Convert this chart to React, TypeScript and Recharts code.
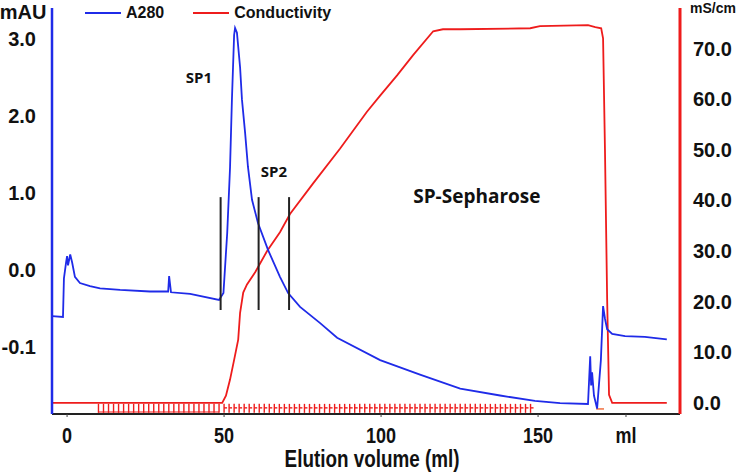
import React from "react";
import {
  ComposedChart,
  Line,
  Scatter,
  XAxis,
  YAxis,
  Legend,
  Label,
  ReferenceLine,
  ReferenceDot,
} from "recharts";

// A280 trace (left axis, plotted in axis-label units)
const a280Ml = [-4.8, -1.3, -1.0, -0.3, 0, 0.3, 1.0, 1.6, 2.5, 4.1, 7.3, 10.5, 16.9, 26.4, 32.2, 32.5, 33.1, 39.2, 48.4, 49.8, 51.0, 51.9, 52.5, 53.2, 53.5, 54.1, 55.1, 55.7, 56.7, 57.6, 58.9, 60.8, 64.0, 67.8, 70.4, 74.2, 80.6, 86.0, 99.7, 112.4, 125.2, 137.9, 149.0, 157.0, 165.9, 166.6, 166.9, 167.2, 167.8, 168.8, 170.0, 170.7, 171.3, 172.0, 173.6, 177.7, 184.0, 191.0];
const a280Val = [-0.6, -0.61, -0.11, 0.1, 0.18, 0.06, 0.2, 0.1, -0.09, -0.17, -0.21, -0.24, -0.26, -0.28, -0.28, -0.08, -0.29, -0.31, -0.39, -0.3, 0.48, 1.33, 2.21, 3.05, 3.14, 3.08, 2.63, 2.21, 1.78, 1.34, 0.91, 0.61, 0.26, -0.09, -0.3, -0.48, -0.69, -0.88, -1.17, -1.36, -1.54, -1.63, -1.7, -1.73, -1.74, -1.12, -1.5, -1.33, -1.63, -1.8, -1.17, -0.47, -0.63, -0.77, -0.83, -0.86, -0.87, -0.9];

// conductivity trace (right axis, mS/cm)
const condMl = [-4.8, 49.4, 50.6, 51.9, 53.2, 54.5, 55.1, 56.1, 57.3, 59.9, 63.7, 67.8, 71.0, 78.3, 86.9, 95.5, 99.7, 105.1, 110.2, 116.6, 119.7, 125.2, 147.5, 150.6, 165.9, 168.2, 170.1, 170.7, 171.3, 172.0, 172.6, 173.6, 191.0];
const condVal = [0, 0, 1.4, 4.6, 8.5, 12.5, 17.8, 21.8, 23.4, 25.8, 30.0, 33.7, 37.3, 43.3, 50.2, 57.5, 60.7, 64.7, 68.7, 73.4, 73.8, 73.8, 74.0, 74.4, 74.6, 74.2, 74.0, 72.0, 50.2, 20.4, 1.6, 0, 0];

// fraction collector marks
const fractionsOpen = [10, 11.6, 13.2, 14.8, 16.4, 18, 19.6, 21.2, 22.8, 24.4, 26, 27.6, 29.2, 30.8, 32.4, 34, 35.6, 37.2, 38.8, 40.4, 42, 43.6, 45.2, 46.8, 48.4];
const fractionsArrow = [50, 51.6, 53.2, 54.8, 56.4, 58, 59.6, 61.2, 62.8, 64.4, 66, 67.6, 69.2, 70.8, 72.4, 74, 75.6, 77.2, 78.8, 80.4, 82, 83.6, 85.2, 86.8, 88.4, 90, 91.6, 93.2, 94.8, 96.4, 98, 99.6, 101.2, 102.8, 104.4, 106, 107.6, 109.2, 110.8, 112.4, 114, 115.6, 117.2, 118.8, 120.4, 122, 123.6, 125.2, 126.8, 128.4, 130, 131.6, 133.2, 134.8, 136.4, 138, 139.6, 141.2, 142.8, 144.4, 146, 147.6];

// pooled fraction cuts (SP1 / SP2)
const cutMl = [48.9, 61.0, 70.7];
const cutTop = 0.945;
const cutBottom = -0.52;

const peakLabels = ["SP1", "SP2"];
const peakLabelMl = [42.0, 65.9];
const peakLabelVal = [2.5, 1.27];

const xTicks = [0, 50, 100, 150, 178];
const xTickLabels = ["0", "50", "100", "150", "ml"];
const leftTicks = [-1, 0, 1, 2, 3];
const leftTickLabels = ["-0.1", "0.0", "1.0", "2.0", "3.0"];
const rightTicks = [0, 10, 20, 30, 40, 50, 60, 70];

const BLUE = "#1f2be8";
const RED = "#ee1c1c";
const SANS = "'Liberation Sans', Arial, sans-serif";

const a280Data = a280Ml.map((ml, i) => ({ ml, v: a280Val[i] }));
const condData = condMl.map((ml, i) => ({ ml, c: condVal[i] }));
const fractionData = [
  ...fractionsOpen.map((ml) => ({ ml, c: 0, kind: "open" })),
  ...fractionsArrow.map((ml) => ({ ml, c: 0, kind: "arrow" })),
];

const FractionMark = (props: any) => {
  const { cx, cy, payload } = props;
  return (
    <g>
      <line x1={cx} x2={cx} y1={cy + 1} y2={cy + 10} stroke={RED} strokeWidth={1.4} />
      {payload.kind === "arrow" && (
        <line x1={cx} x2={cx + 3} y1={cy + 5} y2={cy + 5} stroke={RED} strokeWidth={1.4} />
      )}
    </g>
  );
};

// condensed (narrow) text, like the x-axis labels in the original
const NarrowTick = (props: any) => {
  const { x, y, payload } = props;
  return (
    <g transform={`translate(${x},${y}) scale(0.82,1)`}>
      <text x={0} y={0} dy="0.71em" textAnchor="middle" fontFamily={SANS} fontWeight="bold" fontSize={22} fill="#111">
        {xTickLabels[xTicks.indexOf(payload.value)]}
      </text>
    </g>
  );
};

const XTitle = (props: any) => {
  const { viewBox } = props;
  const cx = viewBox.x + viewBox.width / 2 + 6;
  const by = viewBox.y + viewBox.height - 6;
  return (
    <g transform={`translate(${cx},${by}) scale(0.82,1)`}>
      <text x={0} y={0} textAnchor="middle" fontFamily={SANS} fontWeight="bold" fontSize={23} fill="#111">
        Elution volume (ml)
      </text>
    </g>
  );
};

const renderLegend = (props: any) => {
  const items = (props.payload || []).filter((p: any) => p.type !== "none");
  return (
    <div style={{ display: "flex", alignItems: "center", height: 26 }}>
      {items.map((p: any) => (
        <div key={p.value} style={{ display: "flex", alignItems: "center", marginRight: 29 }}>
          <svg width={36} height={4}>
            <line x1={0} x2={36} y1={2} y2={2} stroke={p.color} strokeWidth={2} />
          </svg>
          <span style={{ marginLeft: 5, fontFamily: SANS, fontWeight: "bold", fontSize: 16, color: "#111" }}>
            {p.value}
          </span>
        </div>
      ))}
    </div>
  );
};

export default function App() {
  return (
    <div style={{ position: "absolute", left: 0, top: 0, background: "#fff" }}>
      <ComposedChart width={742} height={473} margin={{ top: 8, right: 0, bottom: 0, left: 0 }}>
        <XAxis
          dataKey="ml"
          type="number"
          domain={[-4.8, 195.2]}
          allowDataOverflow
          ticks={xTicks}
          height={59}
          axisLine={{ stroke: "#222", strokeWidth: 2 }}
          tickLine={{ stroke: "#444" }}
          tickSize={3}
          tickMargin={10}
          tick={NarrowTick}
        >
          <Label content={XTitle} />
        </XAxis>
        <YAxis
          yAxisId="a280"
          orientation="left"
          type="number"
          domain={[-1.87, 3.4]}
          allowDataOverflow
          ticks={leftTicks}
          tickFormatter={(v: number) => leftTickLabels[leftTicks.indexOf(v)]}
          width={52}
          axisLine={{ stroke: BLUE, strokeWidth: 2.5 }}
          tickLine={false}
          tickSize={0}
          tickMargin={16}
          tick={{ fontFamily: SANS, fontWeight: "bold", fontSize: 20, fill: "#111" }}
        >
          <Label
            value="mAU"
            position="insideTop"
            offset={-3}
            dx={-3}
            style={{ fontFamily: SANS, fontWeight: "bold", fontSize: 20, fill: "#111" }}
          />
        </YAxis>
        <YAxis
          yAxisId="cond"
          orientation="right"
          type="number"
          domain={[-2.2, 78]}
          allowDataOverflow
          ticks={rightTicks}
          tickFormatter={(v: number) => v.toFixed(1)}
          width={62}
          axisLine={{ stroke: RED, strokeWidth: 3 }}
          tickLine={false}
          tickSize={0}
          tickMargin={13}
          tick={{ fontFamily: SANS, fontWeight: "bold", fontSize: 20, fill: "#111" }}
        >
          <Label
            value="mS/cm"
            position="insideTop"
            offset={-5}
            dx={2}
            style={{ fontFamily: SANS, fontWeight: "bold", fontSize: 14, fill: "#111" }}
          />
        </YAxis>
        {/* middle/center so the legend does not push the plot down */}
        <Legend
          layout="horizontal"
          verticalAlign="middle"
          align="center"
          content={renderLegend}
          wrapperStyle={{ top: 0, left: 85, width: "auto", height: 26 }}
        />

        <ReferenceLine
          yAxisId="cond"
          segment={[{ x: fractionsOpen[0], y: -1.8 }, { x: fractionsOpen[fractionsOpen.length - 1], y: -1.8 }]}
          stroke={RED}
          strokeWidth={1.2}
        />
        <ReferenceLine
          yAxisId="cond"
          segment={[{ x: 168.5, y: -1.2 }, { x: 171, y: -1.2 }]}
          stroke="#f07040"
          strokeWidth={1.5}
        />
        <Scatter
          yAxisId="cond"
          dataKey="c"
          data={fractionData}
          shape={FractionMark}
          legendType="none"
          isAnimationActive={false}
        />

        <Line
          yAxisId="cond"
          data={condData}
          dataKey="c"
          name="Conductivity"
          type="linear"
          stroke={RED}
          strokeWidth={1.8}
          dot={false}
          activeDot={false}
          isAnimationActive={false}
          legendType="line"
        />
        <Line
          yAxisId="a280"
          data={a280Data}
          dataKey="v"
          name="A280"
          type="linear"
          stroke={BLUE}
          strokeWidth={1.8}
          dot={false}
          activeDot={false}
          isAnimationActive={false}
          legendType="line"
        />

        {cutMl.map((ml) => (
          <ReferenceLine
            key={ml}
            yAxisId="a280"
            segment={[{ x: ml, y: cutTop }, { x: ml, y: cutBottom }]}
            stroke="#222"
            strokeWidth={2}
          />
        ))}

        {peakLabels.map((name, i) => (
          <ReferenceDot key={name} yAxisId="a280" x={peakLabelMl[i]} y={peakLabelVal[i]} r={0} stroke="none" fill="none">
            <Label
              value={name}
              position="center"
              style={{ fontFamily: "'Open Sans', sans-serif", fontWeight: "bold", fontSize: 15, fill: "#111" }}
            />
          </ReferenceDot>
        ))}
        <ReferenceDot yAxisId="a280" x={130.5} y={0.96} r={0} stroke="none" fill="none">
          <Label
            value="SP-Sepharose"
            position="center"
            style={{ fontFamily: "'Open Sans', sans-serif", fontWeight: "bold", fontSize: 19, fill: "#111" }}
          />
        </ReferenceDot>
      </ComposedChart>
    </div>
  );
}
